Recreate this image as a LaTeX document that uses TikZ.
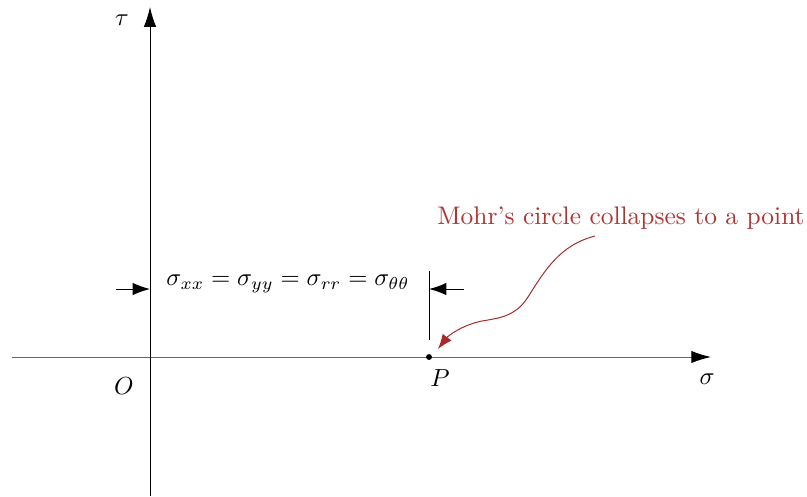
\documentclass[tikz,border=0pt]{standalone}
\usetikzlibrary{arrows.meta}
\definecolor{redtext}{RGB}{176,52,52}
\definecolor{redarrow}{RGB}{165,42,42}
\begin{document}
\begin{tikzpicture}[x=0.405pt,y=-0.405pt,
  axis/.style={-{Latex[length=8pt,width=5pt,color=black]}},
  push/.style={-{Latex[length=7pt,width=5pt]}},
  lbl/.style={inner sep=0pt}]
\useasboundingbox (0,0) rectangle (807,496);
% axes
\coordinate (xs) at (12,357);
\coordinate (xe) at (711,357);
\coordinate (ys) at (150,496);
\coordinate (ye) at (150,7);
\draw[axis, black!60] (xs) -- (xe);
\draw[axis] (ys) -- (ye);
\node[lbl] (tau) at (122,20) {$\tau$};
\node[lbl] (sig) at (707,379) {$\sigma$};
\node[lbl] (O) at (124,386) {$O$};
% point P
\fill (429,357) circle (1.2pt) coordinate (P);
\node[lbl] (Plbl) at (440,378) {$P$};
% bar
\coordinate (bt) at (429,271);
\coordinate (bb) at (429,340);
\draw (bt) -- (bb);
% arrows
\coordinate (la) at (116,289);
\coordinate (lb) at (150,289);
\coordinate (ra) at (464,289);
\coordinate (rb) at (429,289);
\draw[push] (la) -- (lb);
\draw[push] (ra) -- (rb);
\node[lbl] (eq) at (288,284) {$\sigma_{xx}=\sigma_{yy}=\sigma_{rr}=\sigma_{\theta\theta}$};
% annotation
\node[lbl, text=redtext, scale=1.03] (note) at (621,218) {Mohr's circle collapses to a point};
\coordinate (cs) at (595,236);
\coordinate (cm) at (528,297);
\coordinate (cn) at (482,321);
\coordinate (ce) at (438,349);
\draw[redarrow, -{Latex[length=6pt,width=4.5pt]}] (cs) .. controls (560,245) and (545,270) .. (cm) .. controls (516,316) and (500,318) .. (cn) .. controls (462,325) and (448,336) .. (ce);
\end{tikzpicture}
\end{document}
